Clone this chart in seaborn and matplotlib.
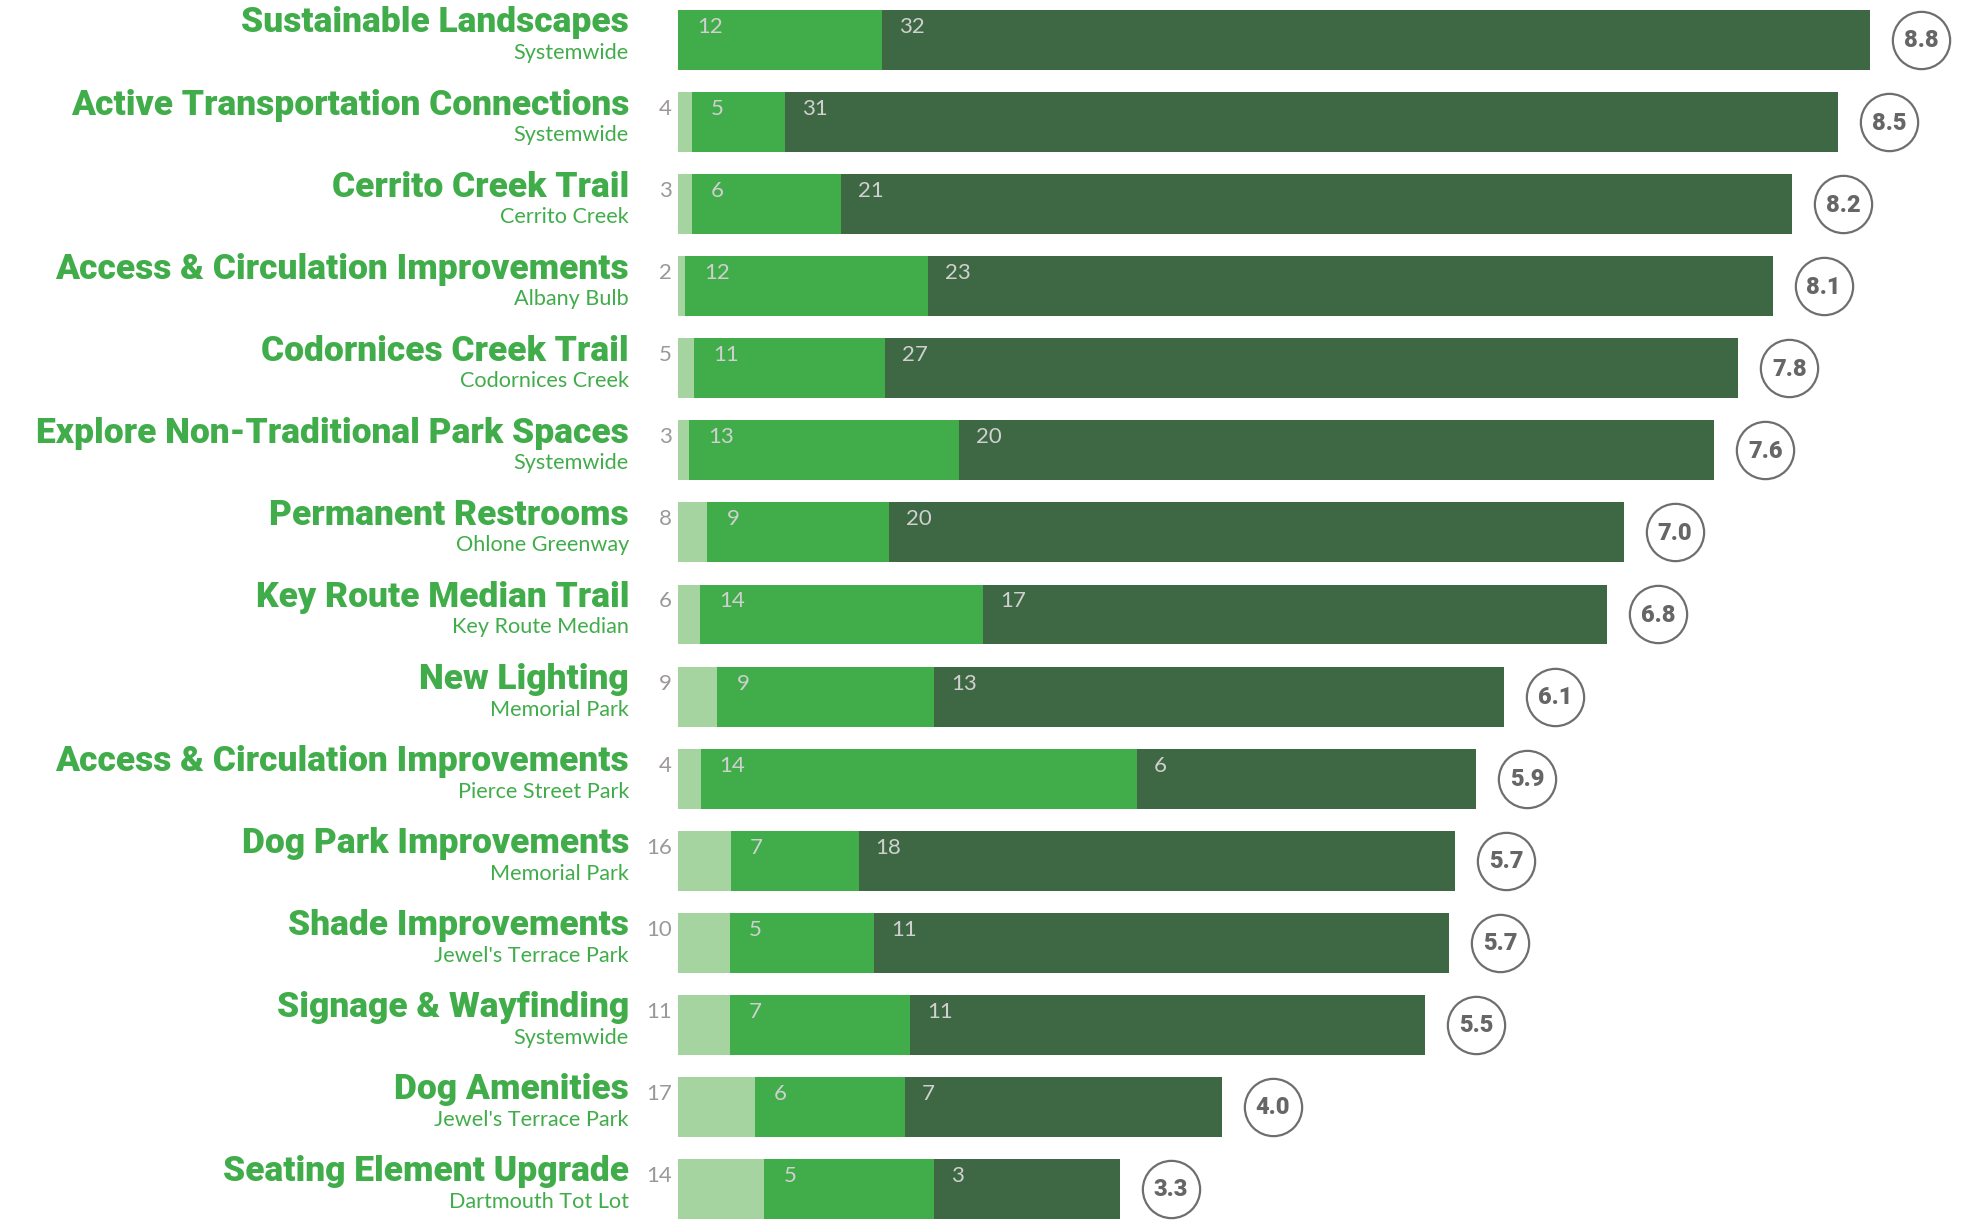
import numpy as np
import pandas as pd
import matplotlib.pyplot as plt
import matplotlib.transforms as mtransforms
import seaborn as sns

# Projects, locations and survey counts (low / medium / high priority)
projects = ["Sustainable Landscapes", "Active Transportation Connections", "Cerrito Creek Trail",
            "Access & Circulation Improvements", "Codornices Creek Trail",
            "Explore Non-Traditional Park Spaces", "Permanent Restrooms", "Key Route Median Trail",
            "New Lighting", "Access & Circulation Improvements", "Dog Park Improvements",
            "Shade Improvements", "Signage & Wayfinding", "Dog Amenities", "Seating Element Upgrade"]
locations = ["Systemwide", "Systemwide", "Cerrito Creek", "Albany Bulb", "Codornices Creek",
             "Systemwide", "Ohlone Greenway", "Key Route Median", "Memorial Park", "Pierce Street Park",
             "Memorial Park", "Jewel's Terrace Park", "Systemwide", "Jewel's Terrace Park",
             "Dartmouth Tot Lot"]
low = [0, 4, 3, 2, 5, 3, 8, 6, 9, 4, 16, 10, 11, 17, 14]
medium = [12, 5, 6, 12, 11, 13, 9, 14, 9, 14, 7, 5, 7, 6, 5]
high = [32, 31, 21, 23, 27, 20, 20, 17, 13, 6, 18, 11, 11, 7, 3]
scores = [8.8, 8.5, 8.2, 8.1, 7.8, 7.6, 7.0, 6.8, 6.1, 5.9, 5.7, 5.7, 5.5, 4.0, 3.3]
weights = [1, 5.5, 10]  # points given to low / medium / high

LIGHT, MID, DARK = "#a6d4a0", "#40ad4a", "#3e6843"
TITLE_GREEN = "#40ad4a"

df = pd.DataFrame({"key": [f"{i}" for i in range(len(projects))],
                   "low": low, "medium": medium, "high": high})
n = df[["low", "medium", "high"]].sum(axis=1)
df["seg_low"] = df["low"] * weights[0] / n
df["seg_mid"] = df["medium"] * weights[1] / n
df["seg_high"] = df["high"] * weights[2] / n
df["cum_low"] = df["seg_low"]
df["cum_mid"] = df["cum_low"] + df["seg_mid"]
df["cum_high"] = df["cum_mid"] + df["seg_high"]

W, H = 1961, 1221
fig = plt.figure(figsize=(W / 100, H / 100), dpi=100)
x0 = 678
px_per_unit = 135.9
ax = fig.add_axes([x0 / W, 0, 1 - x0 / W, 1])

sns.barplot(data=df, x="cum_high", y="key", orient="h", color=DARK, width=0.73,
            saturation=1, ax=ax)
sns.barplot(data=df, x="cum_mid", y="key", orient="h", color=MID, width=0.73,
            saturation=1, ax=ax)
sns.barplot(data=df, x="cum_low", y="key", orient="h", color=LIGHT, width=0.73,
            saturation=1, ax=ax)
for p in ax.patches:
    p.set_linewidth(0)

ax.set_xlim(0, (W - x0) / px_per_unit)
ax.set_ylim(14.39, -0.487)
ax.axis("off")


def off(dx, dy):
    return ax.transData + mtransforms.ScaledTranslation(dx / 100, dy / 100, fig.dpi_scale_trans)


for i, row in df.iterrows():
    ax.text(0, i, projects[i], transform=off(-49, 7.5), ha="right", va="baseline",
            fontsize=25.5, fontweight="black", family="Roboto", color=TITLE_GREEN)
    ax.text(0, i, locations[i], transform=off(-49, -19), ha="right", va="baseline",
            fontsize=15.6, family="Lato", color=TITLE_GREEN)
    if row["low"] > 0:
        ax.text(0, i, str(row["low"]), transform=off(-6, 7), ha="right", va="baseline",
                fontsize=16, family="Lato", color="#9c9898", zorder=5)
    ax.text(row["cum_low"], i, str(row["medium"]), transform=off(19, 7), ha="left",
            va="baseline", fontsize=16, family="Lato", color="#d0d0d0", zorder=5)
    ax.text(row["cum_mid"], i, str(row["high"]), transform=off(17, 7), ha="left",
            va="baseline", fontsize=16, family="Lato", color="#d0d0d0", zorder=5)
    ax.scatter([row["cum_high"]], [i], s=1700, marker="o", facecolor="white",
               edgecolor="#6e6e6e", linewidth=1.6, transform=off(51, 0), zorder=3,
               clip_on=False)
    ax.text(row["cum_high"], i, f"{scores[i]:.1f}", transform=off(51, -1), ha="center",
            va="center", fontsize=17, fontweight="black", family="Roboto", color="#666666",
            zorder=4)

fig.savefig("out.png", dpi=100)
plt.close()
